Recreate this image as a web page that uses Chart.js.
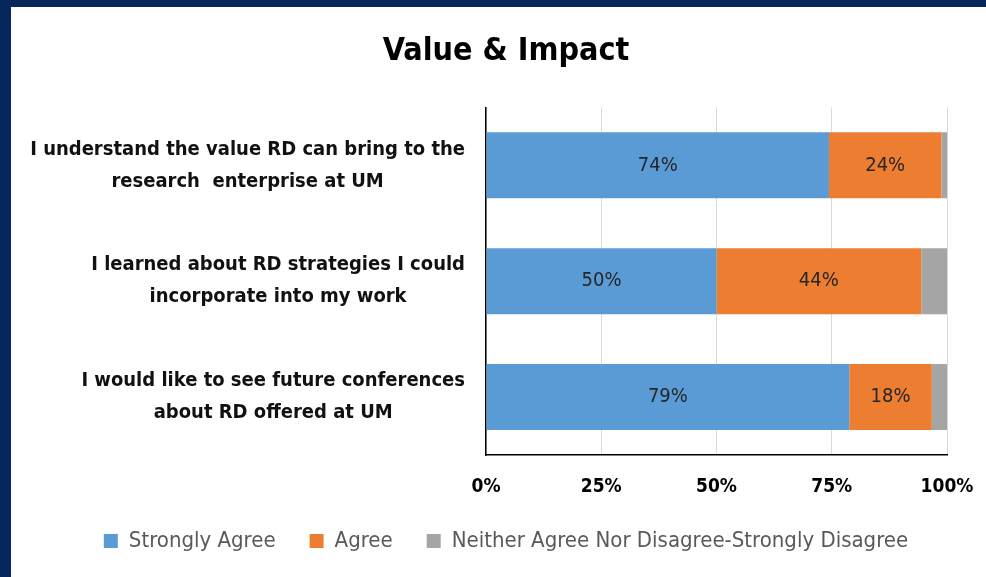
<!DOCTYPE html>
<html>
<head>
<meta charset="utf-8">
<script src="https://cdn.jsdelivr.net/npm/chart.js@4.4.1/dist/chart.umd.min.js"></script>
<style>
  html, body { margin: 0; padding: 0; background: #072659; width: 986px; height: 577px; overflow: hidden; }
  #panel { position: absolute; left: 11px; top: 7px; width: 975px; height: 570px; background: #fff; }
</style>
</head>
<body>
<div id="panel"><canvas id="chart" width="975" height="570"></canvas></div>
<script>
const FONT = '"Liberation Sans Narrow", "DejaVu Sans Condensed", "Open Sans", sans-serif';

// categories (one array per label, one string per line)
const questions = [
  ["I understand the value RD can bring to the", "research  enterprise at UM"],
  ["I learned about RD strategies I could", "incorporate into my work"],
  ["I would like to see future conferences", "about RD offered at UM"]
];
const seriesNames = ["Strongly Agree", "Agree", "Neither Agree Nor Disagree-Strongly Disagree"];
const stronglyAgree = [74.4, 50.0, 78.8];
const agree = [24.4, 44.4, 17.9];
const neither = [1.2, 5.6, 3.3];
const xTicks = [0, 25, 50, 75, 100];

// draws the category labels: each label centred on its own widest line, block right aligned
const categoryLabels = {
  id: "categoryLabels",
  afterDraw(chart) {
    const scale = chart.scales.y;
    const ctx = chart.ctx;
    const right = scale.right - 21;
    ctx.save();
    ctx.font = "bold 20px " + FONT;
    ctx.fillStyle = "#111";
    ctx.textAlign = "center";
    ctx.textBaseline = "middle";
    questions.forEach((lines, i) => {
      const y = scale.getPixelForTick(i);
      const widest = Math.max(...lines.map((l) => ctx.measureText(l).width));
      const cx = right - widest / 2;
      lines.forEach((line, j) => {
        ctx.fillText(line, cx, y + (j - (lines.length - 1) / 2) * 32);
      });
    });
    ctx.restore();
  }
};

// value labels in the middle of the blue and orange segments
const barValues = {
  id: "barValues",
  afterDatasetsDraw(chart) {
    const ctx = chart.ctx;
    ctx.save();
    ctx.font = "20px " + FONT;
    ctx.fillStyle = "#262626";
    ctx.textAlign = "center";
    ctx.textBaseline = "middle";
    [0, 1].forEach((d) => {
      const meta = chart.getDatasetMeta(d);
      meta.data.forEach((bar, i) => {
        const v = chart.data.datasets[d].data[i];
        ctx.fillText(Math.round(v) + "%", (bar.x + bar.base) / 2, bar.y);
      });
    });
    ctx.restore();
  }
};

new Chart(document.getElementById("chart"), {
  type: "bar",
  data: {
    labels: questions,
    datasets: [
      { label: seriesNames[0], data: stronglyAgree, backgroundColor: "#5b9bd5" },
      { label: seriesNames[1], data: agree, backgroundColor: "#ed7d31" },
      { label: seriesNames[2], data: neither, backgroundColor: "#a5a5a5" }
    ]
  },
  options: {
    indexAxis: "y",
    responsive: false,
    animation: false,
    categoryPercentage: 1,
    barPercentage: 0.57,
    layout: { padding: { left: 15, right: 0, top: 0, bottom: 15 } },
    plugins: {
      title: {
        display: true,
        text: "Value & Impact",
        color: "#000",
        font: { family: FONT, size: 32, weight: "bold" },
        padding: { top: 25, bottom: 37 }
      },
      legend: {
        position: "bottom",
        labels: {
          color: "#595959",
          font: { family: FONT, size: 22 },
          boxWidth: 14,
          boxHeight: 14,
          padding: 34
        }
      },
      tooltip: { enabled: false }
    },
    scales: {
      x: {
        stacked: true,
        min: 0,
        max: 100,
        afterBuildTicks: (scale) => { scale.ticks = xTicks.map((v) => ({ value: v })); },
        afterFit: (scale) => {
          scale.height = 41;
          scale.paddingLeft = 0;
          scale.paddingRight = 39;
        },
        ticks: {
          color: "#000",
          font: { family: FONT, size: 19, weight: "bold", lineHeight: 1 },
          padding: 22.5,
          callback: (v) => v + "%"
        },
        grid: { color: "#d9d9d9", drawTicks: false },
        border: { display: true, color: "#000", width: 1.5 }
      },
      y: {
        stacked: true,
        ticks: { display: false },
        grid: { display: false, drawTicks: false },
        border: { display: true, color: "#000", width: 1.5 },
        afterFit: (scale) => { scale.width = 460; }
      }
    }
  },
  plugins: [categoryLabels, barValues]
});
</script>
</body>
</html>
